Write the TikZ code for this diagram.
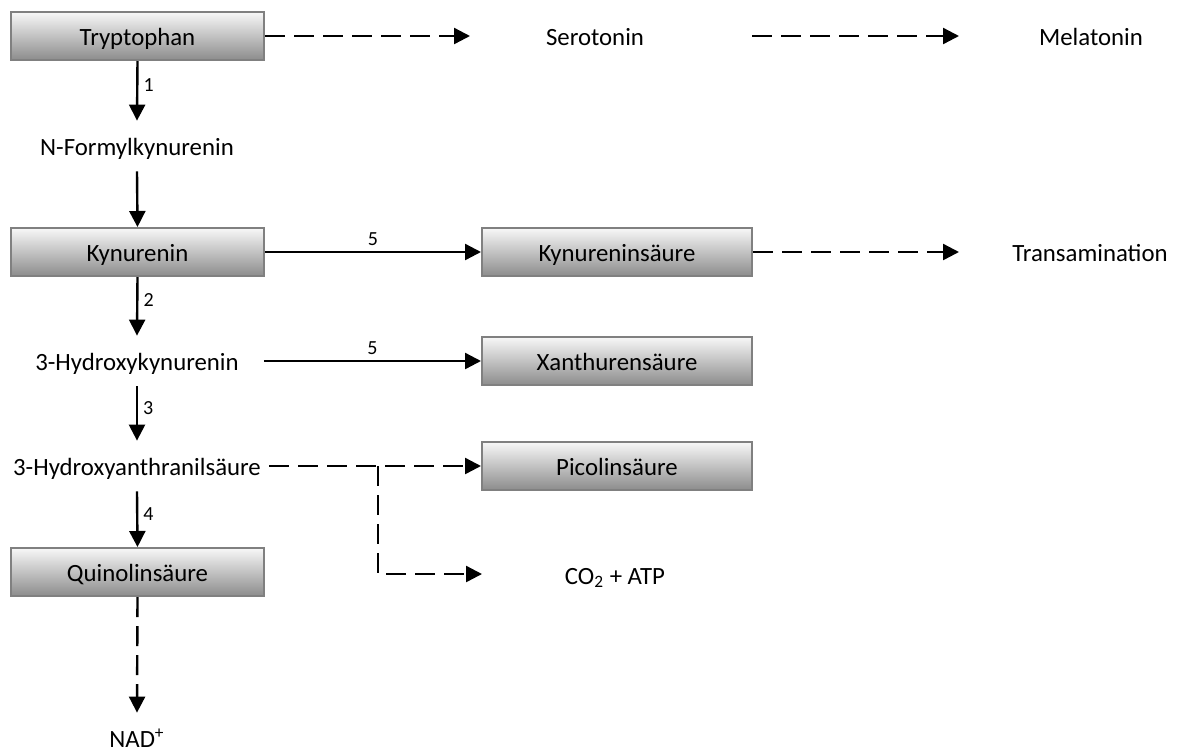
\documentclass[tikz,border=0pt]{standalone}
\usepackage{fontspec}
\setmainfont{Carlito}
\usetikzlibrary{arrows.meta}

\tikzset{
	box/.style={draw=black!50, line width=1pt, top color=black!3, bottom color=black!45,
		minimum width=126.5pt, minimum height=24pt, inner sep=0pt,
		text height=12pt, text depth=3pt, font=\fontsize{12.4}{15}\selectfont},
	breitbox/.style={box, minimum width=135pt},
	stoff/.style={minimum height=25pt, minimum width=126.5pt, inner sep=4pt,
		text height=12pt, text depth=3pt, font=\fontsize{12.4}{15}\selectfont},
	pfeil/.style={line width=1.2pt, -{Triangle[length=8pt,width=8pt]}},
	gestrichelt/.style={pfeil, dash pattern=on 10pt off 4.5pt},
	nr/.style={font=\fontsize{10}{12}\selectfont, inner sep=2.5pt}
}

\begin{document}
\begin{tikzpicture}[x=0.5pt,y=-0.5pt]

	\useasboundingbox (0,0) rectangle (1178,751);

	% linke Spalte
	\node[box]   (tryp) at (137.5,36)  {Tryptophan};
	\node[stoff] (nfk)  at (137,146)   {N-Formylkynurenin};
	\node[box]   (kyn)  at (137.5,252) {Kynurenin};
	\node[stoff] (hk)   at (137,361)   {3-Hydroxykynurenin};
	\node[stoff] (haa)  at (137,466)   {3-Hydroxyanthranilsäure};
	\node[box]   (quin) at (137.5,572) {Quinolinsäure};
	\node[stoff] (nad)  at (137,738)   {NAD\textsuperscript{+}};

	% rechte Seite
	\node[stoff]    (sero)  at (595,36)   {Serotonin};
	\node[stoff]    (mela)  at (1091,36)  {Melatonin};
	\node[breitbox] (kyns)  at (617,252)  {Kynureninsäure};
	\node[stoff]    (trans) at (1090,252) {Transamination};
	\node[breitbox] (xan)   at (617,361)  {Xanthurensäure};
	\node[breitbox] (pico)  at (617,466)  {Picolinsäure};
	\node[stoff]    (co2)   at (615,575)  {CO\textsubscript{2} + ATP};

	% freie Pfeilenden
	\coordinate (seroE) at (470,36);
	\coordinate (seroA) at (752,36);
	\coordinate (melaE) at (959,36);
	\coordinate (transE) at (959,252);
	\coordinate (abzw) at (378,466);
	\coordinate (co2E) at (482,574);

	% Hauptweg
	\draw[pfeil] (tryp.south) -- (nfk.north) node[nr, pos=0.4, right] {1};
	\draw[pfeil] (nfk.south) -- (kyn.north);
	\draw[pfeil] (kyn.south) -- (hk.north) node[nr, pos=0.4, right] {2};
	\draw[pfeil] (hk.south) -- (haa.north) node[nr, pos=0.4, right] {3};
	\draw[pfeil] (haa.south) -- (quin.north) node[nr, pos=0.4, right] {4};
	\draw[gestrichelt] (quin.south) -- (nad.north);

	% Abzweigungen
	\draw[gestrichelt] (tryp.east) -- (seroE);
	\draw[gestrichelt] (seroA) -- (melaE);
	\draw[pfeil] (kyn.east) -- (kyns.west) node[nr, midway, above] {5};
	\draw[gestrichelt] (kyns.east) -- (transE);
	\draw[pfeil] (hk.east) -- (xan.west) node[nr, midway, above] {5};
	\draw[gestrichelt] (haa.east) -- (pico.west);
	\draw[gestrichelt] (abzw) |- (co2E);

\end{tikzpicture}
\end{document}
